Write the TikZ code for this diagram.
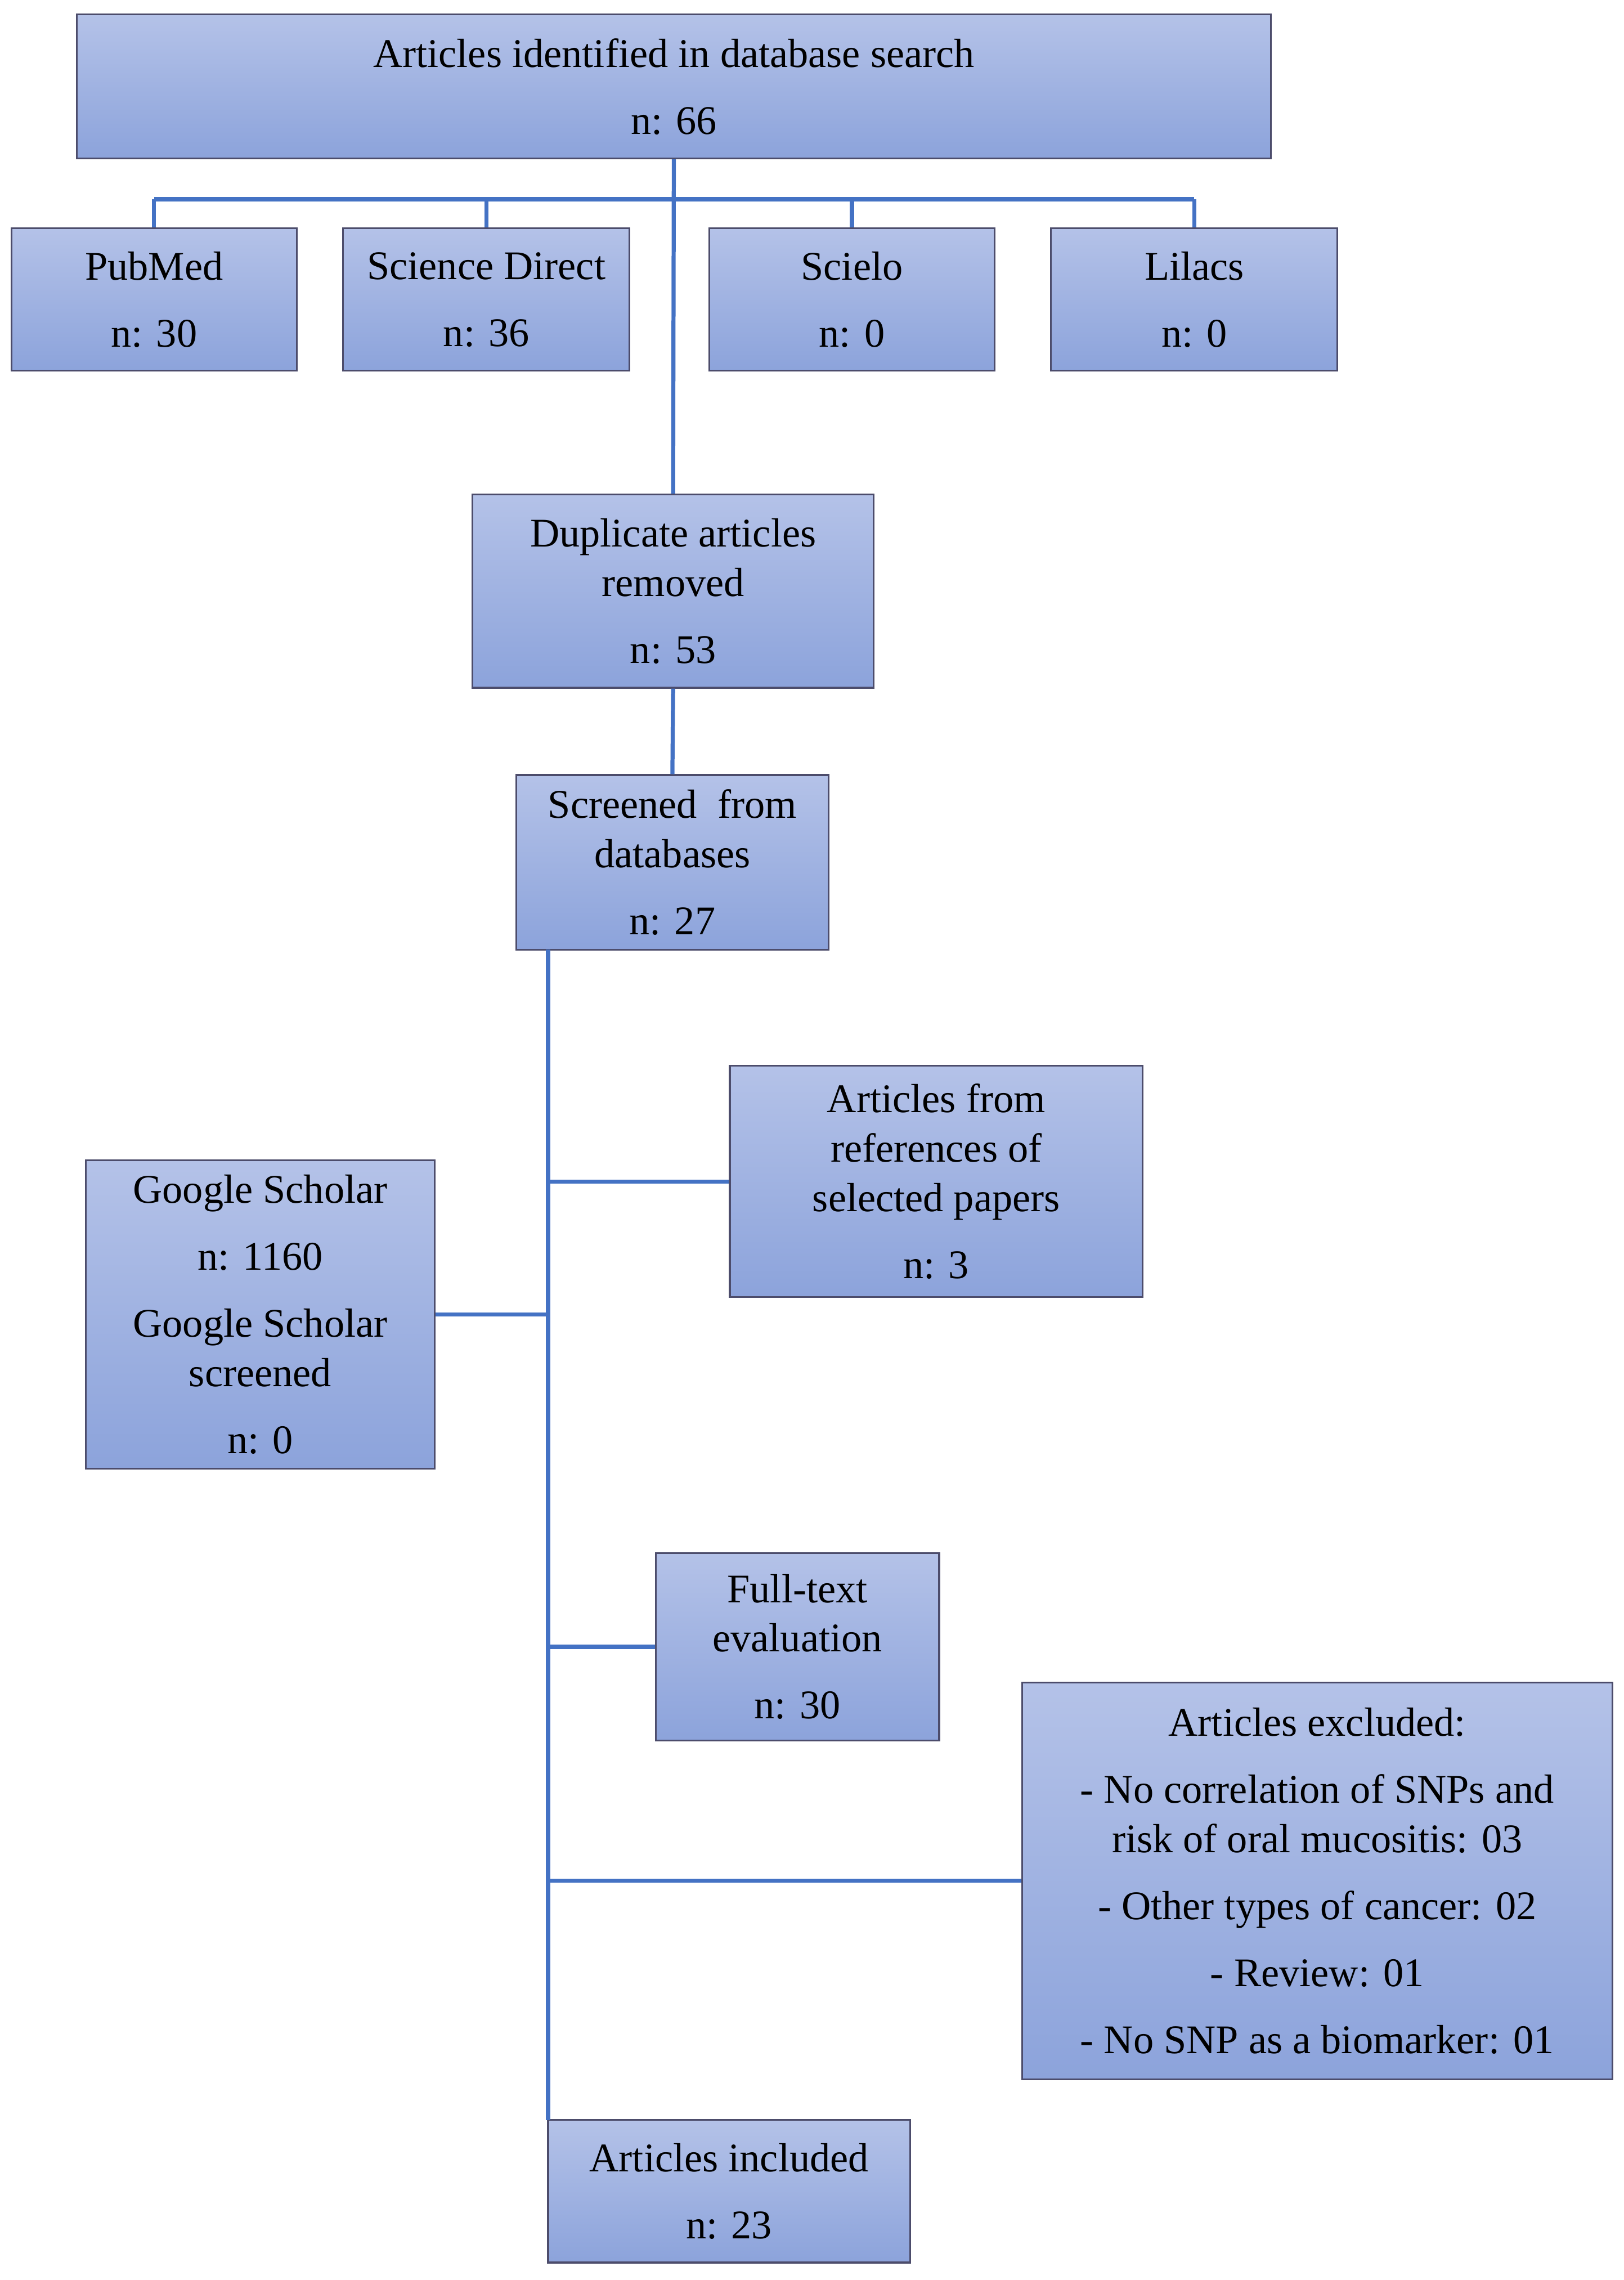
\documentclass[tikz,border=0pt]{standalone}
\usepackage{fontspec}
\setmainfont{Liberation Serif}
\begin{document}
\begin{tikzpicture}[x=0.5pt,y=-0.5pt,
 box/.style={draw=black!70!blue!40!gray, line width=0.6pt, top color=boxtop, bottom color=boxbot, align=center, inner sep=0pt, font=\fontsize{14}{17}\selectfont},
 link/.style={draw=linkc, line width=1.4pt}]
\definecolor{boxtop}{HTML}{B4C2E8}
\definecolor{boxbot}{HTML}{8CA3DB}
\definecolor{linkc}{HTML}{4472C4}
\useasboundingbox (0,0) rectangle (1117,1568);
\node[box, minimum width=410.5pt, minimum height=49.5pt] (top) at (463.5,59.5) {Articles identified in database search\\[6pt] n: 66};
\node[box, minimum width=98pt, minimum height=49pt] (pub) at (106,206) {PubMed\\[6pt] n: 30};
\node[box, minimum width=98.5pt, minimum height=49pt] (sd) at (334.5,206) {Science Direct\\[6pt] n: 36};
\node[box, minimum width=98pt, minimum height=49pt] (sci) at (586,206) {Scielo\\[6pt] n: 0};
\node[box, minimum width=98.5pt, minimum height=49pt] (lil) at (821.5,206) {Lilacs\\[6pt] n: 0};
\node[box, minimum width=138pt, minimum height=66.5pt] (dup) at (463,406.5) {Duplicate articles\\ removed\\[6pt] n: 53};
\node[box, minimum width=107.5pt, minimum height=60pt] (scr) at (462.5,593) {Screened\ \ from\\ databases\\[6pt] n: 27};
\node[box, minimum width=142pt, minimum height=79.5pt] (ref) at (644,812.5) {Articles from\\ references of\\ selected papers\\[6pt] n: 3};
\node[box, minimum width=120pt, minimum height=106pt] (gs) at (179,904) {Google Scholar\\[6pt] n: 1160\\[6pt] Google Scholar\\ screened\\[6pt] n: 0};
\node[box, minimum width=97.5pt, minimum height=64.5pt] (ft) at (548.5,1132.5) {Full-text\\ evaluation\\[6pt] n: 30};
\node[box, minimum width=203pt, minimum height=136.5pt] (ex) at (906,1293.5) {Articles excluded:\\[6pt] - No correlation of SNPs and\\ risk of oral mucositis: 03\\[6pt] - Other types of cancer: 02\\[6pt] - Review: 01\\[6pt] - No SNP as a biomarker: 01};
\node[box, minimum width=124.5pt, minimum height=49pt] (inc) at (501.5,1507) {Articles included\\[6pt] n: 23};
% connectors
\coordinate (bl) at (106,137);
\coordinate (br) at (821.5,137);
\coordinate (bm) at (463,137);
\draw[link] (bl) -- (br);
\draw[link] (pub.north) -- (bl);
\draw[link] (lil.north) -- (br);
\draw[link] (sd.north) -- (sd.north |- bm);
\draw[link] (sci.north) -- (sci.north |- bm);
\draw[link] (top.south) -- (dup.north);
\draw[link] (dup.south) -- (scr.north);
\coordinate (t0) at (377,653);
\coordinate (t1) at (377,1458);
\draw[link] (t0) -- (t1);
\draw[link] (ref.west) -- (ref.west -| t0);
\draw[link] (gs.east) -- (gs.east -| t0);
\draw[link] (ft.west) -- (ft.west -| t0);
\draw[link] (ex.west) -- (ex.west -| t0);
\end{tikzpicture}
\end{document}
